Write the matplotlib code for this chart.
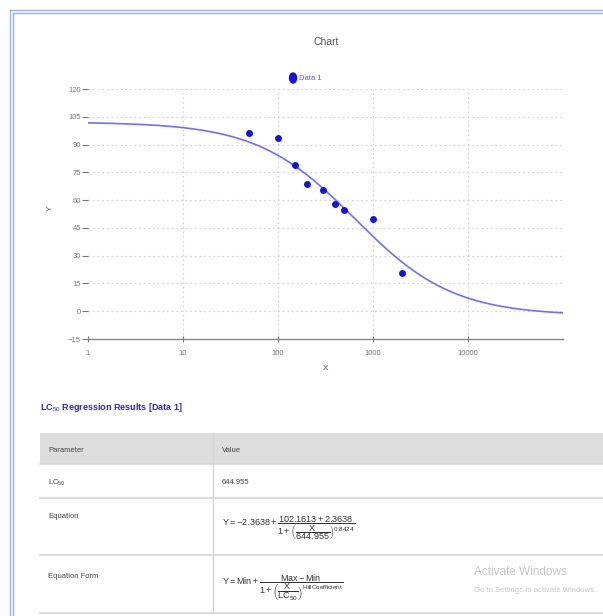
import numpy as np
import matplotlib
matplotlib.use("Agg")
import matplotlib.pyplot as plt
from matplotlib.patches import Rectangle, Ellipse
from matplotlib.lines import Line2D

# ---- data ----
x_data = [50, 100, 150, 200, 300, 400, 500, 1000, 2000]
y_data = [96.2, 93.5, 79.0, 68.8, 65.6, 58.0, 54.8, 50.0, 20.4]
series_name = "Data 1"
fit_min = -2.3638
fit_max = 102.1613
fit_lc50 = 644.955
fit_hill = 0.8424
x_ticks = [1, 10, 100, 1000, 10000]
x_tick_labels = ["1", "10", "100", "1000", "10000"]
y_ticks = [-15, 0, 15, 30, 45, 60, 75, 90, 105, 120]
table_rows = ["Parameter", "LC50", "Equation", "Equation Form"]

W, H = 603, 616
fig = plt.figure(figsize=(W / 100, H / 100), dpi=100)
plt.rcParams['font.family'] = ['Liberation Sans', 'DejaVu Sans']
plt.rcParams['mathtext.fontset'] = 'custom'
plt.rcParams['mathtext.rm'] = 'Liberation Sans'
plt.rcParams['mathtext.it'] = 'Liberation Sans'


def fx(x):
    return x / W


def fy(y):
    return 1 - y / H


def ftext(x, y, s, **kw):
    fig.text(fx(x), fy(y), s, **kw)


# ---- page border (double blue line) ----
for off in (10, 13):
    fig.add_artist(Line2D([fx(off), fx(off)], [fy(off), 0], color='#8fb4e3', lw=1.0))
    fig.add_artist(Line2D([fx(off), 1], [fy(off), fy(off)], color='#8fb4e3', lw=1.0))

# ---- chart ----
ax_l, ax_r, ax_t, ax_b = 88, 563, 89, 339
ax = fig.add_axes([fx(ax_l), fy(ax_b), fx(ax_r - ax_l), (ax_b - ax_t) / H])
ax.set_xscale('log')
ax.set_xlim(1, 1e5)
ax.set_ylim(-15, 120)

xc = np.logspace(0, 5, 400)
yc = fit_min + (fit_max - fit_min) / (1 + (xc / fit_lc50) ** fit_hill)
ax.plot(xc, yc, color='#7070f0', lw=1.2)
ax.plot(x_data, y_data, linestyle='none', marker='o', markersize=5,
        color='#1010e8', markeredgewidth=0)

ax.set_xticks(x_ticks)
ax.set_xticklabels(x_tick_labels)
ax.xaxis.set_minor_locator(matplotlib.ticker.NullLocator())
ax.set_yticks(y_ticks)
ax.tick_params(axis='both', labelsize=5.5, colors='#777777', labelcolor='#777777')
ax.tick_params(axis='y', length=4, width=0.8, pad=1)
ax.tick_params(axis='x', length=4, width=0.8, direction='inout', pad=6)

for yv in y_ticks[1:]:
    ax.axhline(yv, color='#cfcfcf', lw=0.9, linestyle=(0, (1.2, 2.5)), zorder=0)
for xv in [10, 100, 1000, 10000, 100000]:
    ax.axvline(xv, color='#cfcfcf', lw=0.9, linestyle=(0, (1.2, 2.5)), zorder=0)

for s in ['top', 'right', 'left']:
    ax.spines[s].set_visible(False)
ax.spines['bottom'].set_color('#888888')
ax.spines['bottom'].set_linewidth(1.0)

ftext(326, 42, "Chart", ha='center', va='center', fontsize=7.5, color='#555555')
ftext(326, 369, "X", ha='center', va='center', fontsize=6, color='#555555')
ftext(50, 208, "Y", ha='center', va='center', fontsize=6, color='#555555', rotation=90)

# legend
fig.add_artist(Ellipse((fx(293), fy(78)), 7 / W, 10 / H, color='#1010e8'))
ftext(299, 78, series_name, ha='left', va='center', fontsize=5.5, color='#5a5ae0')

# ---- results heading ----
ftext(40, 408, r"LC$_{50}$ Regression Results [Data 1]", ha='left', va='center',
      fontsize=6.5, color='#2b2bd0', fontweight='bold')

# ---- table ----
tx0, tx_mid = 40, 213
row_y = [433, 464, 498, 555, 613]
fig.add_artist(Rectangle((fx(tx0), fy(row_y[1])), 1 - fx(tx0), (row_y[1] - row_y[0]) / H,
                         facecolor='#dddddd', edgecolor='none'))
for yy in row_y[1:]:
    fig.add_artist(Line2D([fx(tx0), 1], [fy(yy), fy(yy)], color='#d5d5d5', lw=1.2))
fig.add_artist(Line2D([fx(tx_mid), fx(tx_mid)], [fy(row_y[0]), fy(row_y[-1])],
                      color='#d5d5d5', lw=1.0))

lab_kw = dict(ha='left', va='center', fontsize=5.5, color='#444444')
ftext(48, 450, table_rows[0], **lab_kw)
ftext(222, 450, "Value", **lab_kw)
ftext(48, 483, r"$\it{LC}_{50}$", **lab_kw)
ftext(222, 483, f"{fit_lc50:g}", **lab_kw)
ftext(48, 517, table_rows[2], **lab_kw)
ftext(48, 576, table_rows[3], **lab_kw)

eq = (r"$Y = %.4f + \dfrac{%.4f + %.4f}{1 + \left(\dfrac{X}{%g}\right)^{%.4f}}$"
      % (fit_min, fit_max, -fit_min, fit_lc50, fit_hill))
ftext(222, 528, eq, ha='left', va='center', fontsize=6.5, color='#333333')
form = (r"$Y = Min + \dfrac{Max - Min}{1 + \left(\dfrac{X}{LC_{50}}\right)^{HillCoefficient}}$")
ftext(222, 588, form, ha='left', va='center', fontsize=6.5, color='#333333')

# watermark
ftext(474, 572, "Activate Windows", ha='left', va='center', fontsize=8.5, color='#c6c6c6')
ftext(474, 591, "Go to Settings to activate Windows.", ha='left', va='center',
      fontsize=5.5, color='#c6c6c6')

fig.savefig("out.png", dpi=100)
